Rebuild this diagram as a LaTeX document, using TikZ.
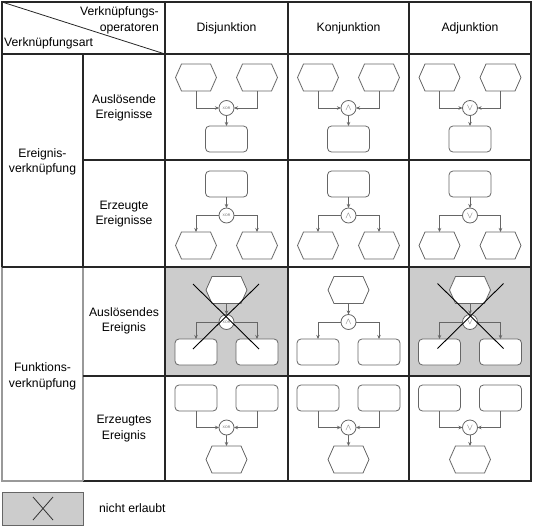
\documentclass[tikz,border=0pt]{standalone}
\usepackage{fontspec}
\setmainfont{Liberation Sans}
\usetikzlibrary{arrows.meta}
\tikzset{
  gridline/.style={line width=1.2pt, black!85},
  softline/.style={line width=1.2pt, black!40},
  shapeline/.style={line width=0.8pt, black!60},
  hexbox/.style={draw=none, minimum width=41pt, minimum height=27pt, inner sep=0pt, outer sep=0pt},
  funcbox/.style={shapeline, draw, fill=white, rounded corners=4pt, minimum width=42pt, minimum height=26pt, inner sep=0pt, outer sep=0pt},
  opnode/.style={shapeline, draw, fill=white, circle, minimum size=15pt, inner sep=0pt, outer sep=0pt},
  conn/.style={shapeline, -{Stealth[length=4pt,width=3.5pt]}},
  crossline/.style={line width=0.9pt, black},
  label/.style={inner sep=0pt, align=center, font=\fontsize{12.2}{15.5}\selectfont},
  greycell/.style={fill=black!20, draw=none}
}
\newcommand{\symXOR}{{\fontsize{3.5}{3.5}\selectfont XOR}}
\newcommand{\symAND}{{\fontsize{9}{9}\selectfont$\wedge$}}
\newcommand{\symOR}{{\fontsize{9}{9}\selectfont$\vee$}}
\newcommand{\hexnode}[3]{%
  \node[hexbox] (#1) at ({#2},{#3}) {};
  \draw[shapeline, fill=white] (#1.west) -- ([xshift=6pt]#1.north west) -- ([xshift=-6pt]#1.north east) -- (#1.east) -- ([xshift=-6pt]#1.south east) -- ([xshift=6pt]#1.south west) -- cycle;
}
% two events -> op -> function
\newcommand{\cellA}[4]{%
  \hexnode{#1a}{#2-30.5}{#3+23.5}
  \hexnode{#1b}{#2+30.5}{#3+23.5}
  \node[opnode] (#1o) at ({#2},{#3+54}) {#4};
  \node[funcbox] (#1f) at ({#2},{#3+85}) {};
  \draw[conn] (#1a.south) |- (#1o.west);
  \draw[conn] (#1b.south) |- (#1o.east);
  \draw[conn] (#1o.south) -- (#1f.north);
}
% function -> op -> two events
\newcommand{\cellB}[4]{%
  \node[funcbox] (#1f) at ({#2},{#3+24}) {};
  \node[opnode] (#1o) at ({#2},{#3+55.5}) {#4};
  \hexnode{#1a}{#2-30.5}{#3+85.5}
  \hexnode{#1b}{#2+30.5}{#3+85.5}
  \draw[conn] (#1f.south) -- (#1o.north);
  \draw[conn] (#1o.west) -| (#1a.north);
  \draw[conn] (#1o.east) -| (#1b.north);
}
% event -> op -> two functions
\newcommand{\cellC}[4]{%
  \hexnode{#1e}{#2}{#3+23}
  \node[opnode] (#1o) at ({#2},{#3+55}) {#4};
  \node[funcbox] (#1a) at ({#2-30.5},{#3+85}) {};
  \node[funcbox] (#1b) at ({#2+30.5},{#3+85}) {};
  \draw[conn] (#1e.south) -- (#1o.north);
  \draw[conn] (#1o.west) -| (#1a.north);
  \draw[conn] (#1o.east) -| (#1b.north);
}
% two functions -> op -> event
\newcommand{\cellD}[4]{%
  \node[funcbox] (#1a) at ({#2-30.5},{#3+23}) {};
  \node[funcbox] (#1b) at ({#2+30.5},{#3+23}) {};
  \node[opnode] (#1o) at ({#2},{#3+52.5}) {#4};
  \hexnode{#1e}{#2}{#3+84.5}
  \draw[conn] (#1a.south) |- (#1o.west);
  \draw[conn] (#1b.south) |- (#1o.east);
  \draw[conn] (#1o.south) -- (#1e.north);
}
\newcommand{\crossat}[3]{%
  \coordinate (#1tl) at ({#2-33},{#3-32.5});
  \coordinate (#1br) at ({#2+33},{#3+32.5});
  \coordinate (#1tr) at ({#2+33},{#3-32.5});
  \coordinate (#1bl) at ({#2-33},{#3+32.5});
  \draw[crossline] (#1tl) -- (#1br);
  \draw[crossline] (#1tr) -- (#1bl);
}
\begin{document}
\begin{tikzpicture}[x=1pt, y=-1pt]
\useasboundingbox (0,0) rectangle (539,528);
% grey cells
\fill[greycell] (165,267) rectangle (288,376);
\fill[greycell] (409,267) rectangle (531,376);
% grid
\draw[gridline] (2,267) -- (2,2) -- (531,2) -- (531,481) -- (83,481);
\draw[softline] (2,267) -- (2,481) -- (83,481);
\draw[gridline, line width=1.6pt] (2,54) -- (531,54);
\draw[gridline] (165,2) -- (165,481);
\draw[gridline] (288,2) -- (288,481);
\draw[gridline] (409,2) -- (409,481);
\draw[gridline] (83,54) -- (83,267);
\draw[softline] (83,267) -- (83,481);
\draw[gridline] (83,160) -- (531,160);
\draw[gridline, line width=1.6pt] (2,267) -- (531,267);
\draw[gridline] (83,376) -- (531,376);
\coordinate (diagA) at (2,2);
\coordinate (diagB) at (165,54);
\draw[line width=0.8pt, black!85] (diagA) -- (diagB);
% header texts
\node[label, align=right, anchor=east] (hop) at (159,20.5) {Verknüpfungs-\\operatoren};
\node[label, anchor=west] (hart) at (4,43) {Verknüpfungsart};
\node[label] (hdis) at (226.5,28) {Disjunktion};
\node[label] (hkon) at (348.5,28) {Konjunktion};
\node[label] (hadj) at (470,28) {Adjunktion};
% row labels
\node[label] (lev) at (42.5,162) {Ereignis-\\verknüpfung};
\node[label] (lfu) at (42.5,376.5) {Funktions-\\verknüpfung};
\node[label] (l1) at (124,108) {Auslösende\\Ereignisse};
\node[label] (l2) at (124,214) {Erzeugte\\Ereignisse};
\node[label] (l3) at (124,321) {Auslösendes\\Ereignis};
\node[label] (l4) at (124,428.5) {Erzeugtes\\Ereignis};
% cells
\cellA{aa}{226.5}{54}{\symXOR}
\cellA{ab}{348.5}{54}{\symAND}
\cellA{ac}{470}{54}{\symOR}
\cellB{ba}{226.5}{160}{\symXOR}
\cellB{bb}{348.5}{160}{\symAND}
\cellB{bc}{470}{160}{\symOR}
\cellC{ca}{226.5}{267}{\symXOR}
\cellC{cb}{348.5}{267}{\symAND}
\cellC{cc}{470}{267}{\symOR}
\cellD{da}{226.5}{375}{\symXOR}
\cellD{db}{348.5}{375}{\symAND}
\cellD{dc}{470}{375}{\symOR}
% crosses
\crossat{xa}{226}{316.5}
\crossat{xc}{470.5}{316}
% legend
\node[fill=black!20, draw=black!60, line width=1pt, minimum width=81pt, minimum height=33pt, inner sep=0pt] (leg) at (42.5,508.5) {};
\coordinate (lga) at (33,497);
\coordinate (lgb) at (53,520);
\coordinate (lgc) at (53,497);
\coordinate (lgd) at (33,520);
\draw[line width=0.8pt, black!80] (lga) -- (lgb);
\draw[line width=0.8pt, black!80] (lgc) -- (lgd);
\node[label, anchor=west] (legt) at (99,508) {nicht erlaubt};
\end{tikzpicture}
\end{document}
